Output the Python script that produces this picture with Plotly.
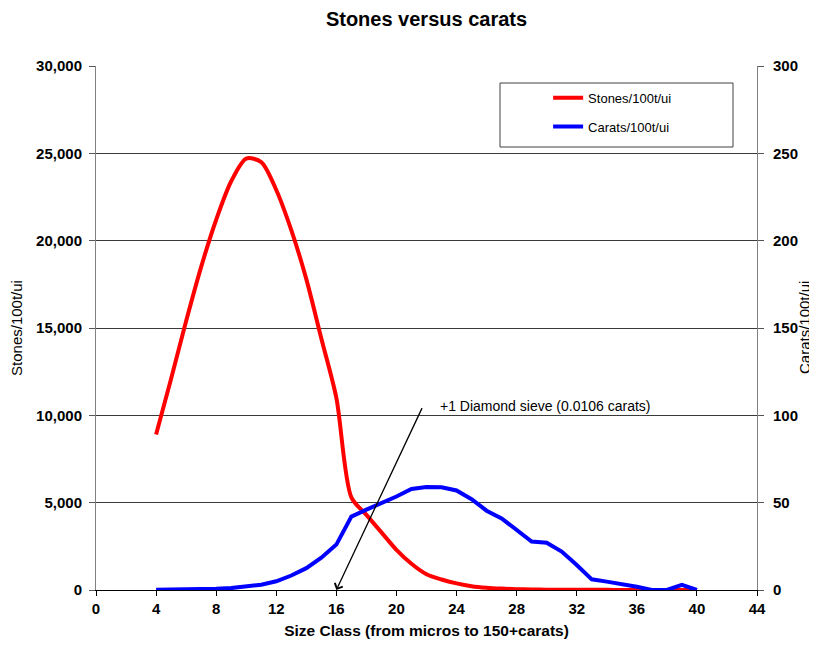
import plotly.graph_objects as go

size_class = list(range(4, 41))
stones = [8900, 12100, 15400, 18500, 21200, 23400, 24700, 24500, 22900, 20600,
          17800, 14400, 11000, 5300, 4300, 3300, 2300, 1500, 900, 600,
          380, 220, 130, 80, 50, 30, 20, 15, 10, 10,
          8, 6, 5, 5, 4, 4, 3]
carats = [0.1, 0.15, 0.2, 0.4, 0.7, 1.1, 1.8, 3.0, 5.0, 8.3,
          12.5, 18.5, 26.0, 42.0, 46.0, 49.5, 53.5, 57.8, 59.0, 58.8,
          57.0, 52.0, 45.4, 41.0, 34.4, 27.7, 27.1, 22.0, 14.3, 6.1,
          4.8, 3.4, 1.9, 0.0, 0.0, 2.9, 0.0]

x_ticks = list(range(0, 45, 4))
y_ticks = list(range(0, 30001, 5000))
y2_ticks = list(range(0, 301, 50))

FONT = "Liberation Sans, Arial, sans-serif"
W, H = 809, 631  # page has an 8px body margin

fig = go.Figure()
fig.add_trace(go.Scatter(
    x=size_class, y=stones, name="Stones/100t/ui", mode="lines",
    line=dict(color="#ff0000", width=4, shape="spline", smoothing=0.8),
    legendgroup="a", yaxis="y"))
fig.add_trace(go.Scatter(
    x=size_class, y=carats, name="Carats/100t/ui", mode="lines",
    line=dict(color="#0000ff", width=4),
    legendgroup="b", yaxis="y2"))

fig.update_layout(
    width=W, height=H,
    margin=dict(l=88, r=60, t=58, b=H - 582, autoexpand=False),
    paper_bgcolor="white", plot_bgcolor="white",
    font=dict(family=FONT, color="black", size=12),
    title=dict(text="<b>Stones versus carats</b>", x=0.5, xref="paper",
               y=1 - 11 / H, yanchor="middle", font=dict(size=20)),
    showlegend=True,
    legend=dict(x=0.684, y=0.968, xanchor="left", yanchor="top",
                bgcolor="rgba(0,0,0,0)", borderwidth=0,
                traceorder="grouped", tracegroupgap=9,
                font=dict(size=13, family=FONT)),
    xaxis=dict(range=[0, 44], tickvals=x_ticks, ticks="outside", ticklen=5,
               tickcolor="black", showline=True, linecolor="black", linewidth=1,
               showgrid=False, zeroline=False, automargin=False,
               tickfont=dict(size=15, weight="bold"),
               title=dict(text="<b>Size Class (from micros to 150+carats)</b>",
                          font=dict(size=15.5), standoff=10)),
    yaxis=dict(range=[0, 30000], tickvals=y_ticks, tickformat=",",
               ticks="outside", ticklen=6, tickcolor="#555",
               showline=True, linecolor="#808080", linewidth=1,
               showgrid=True, gridcolor="#3a3a3a", gridwidth=1, zeroline=False,
               automargin=False, ticklabelstandoff=4,
               tickfont=dict(size=15, weight="bold"),
               title=dict(text="Stones/100t/ui", font=dict(size=15), standoff=10)),
    yaxis2=dict(range=[0, 300], tickvals=y2_ticks, overlaying="y", side="right",
                ticks="outside", ticklen=6, tickcolor="#555",
                showline=True, linecolor="#808080", linewidth=1,
                showgrid=False, zeroline=False, automargin=False,
                ticklabelstandoff=6,
                tickfont=dict(size=15, weight="bold")),
)

# right axis title
fig.add_annotation(x=(796 - 88) / 661, y=0.5, xref="paper", yref="paper",
                   text="Carats/100t/ui", textangle=-90, showarrow=False,
                   xanchor="center", yanchor="middle",
                   font=dict(size=15, family=FONT))

# legend frame
fig.add_shape(type="rect", xref="paper", yref="paper",
              x0=(500 - 96) / 661, x1=(733 - 96) / 661,
              y0=(590 - 147) / 524, y1=(590 - 83) / 524,
              line=dict(color="#404040", width=1), fillcolor="rgba(0,0,0,0)")

# arrow annotation
fig.add_annotation(x=16, y=0, xref="x", yref="y", ax=21.75, ay=10500,
                   axref="x", ayref="y", showarrow=True, arrowhead=4,
                   arrowsize=1.3, arrowwidth=1.3, arrowcolor="black", text="")
fig.add_annotation(x=22.75, y=10550, xref="x", yref="y", xanchor="left",
                   yanchor="middle", showarrow=False,
                   text="+1 Diamond sieve (0.0106 carats)",
                   font=dict(size=14, family=FONT))

fig.write_html("out.html")
